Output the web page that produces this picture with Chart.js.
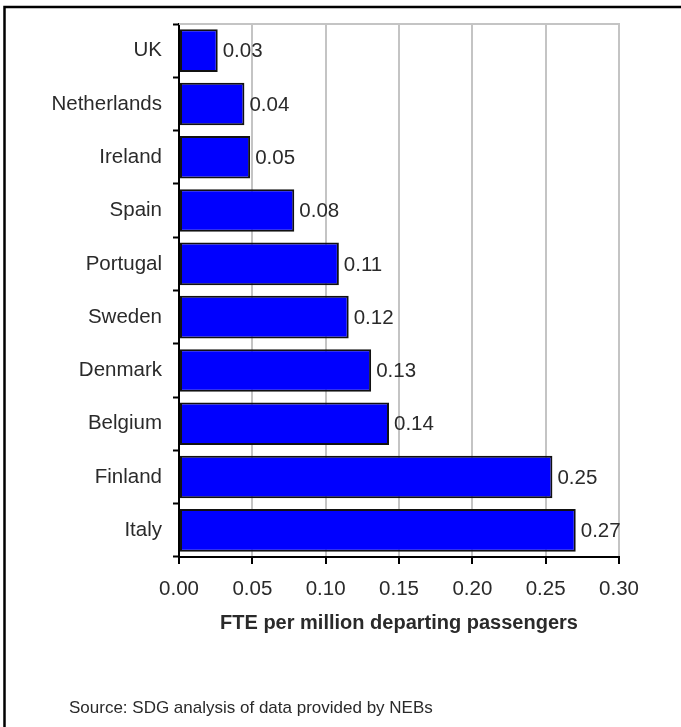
<!DOCTYPE html>
<html>
<head>
<meta charset="utf-8">
<script src="https://cdn.jsdelivr.net/npm/chart.js@4.4.1/dist/chart.umd.min.js"></script>
<style>
  html, body { margin: 0; padding: 0; background: #fff; }
  #wrap { width: 681px; height: 727px; position: relative; }
</style>
</head>
<body>
<div id="wrap"><canvas id="fteChart" width="681" height="727"></canvas></div>
<script>
const countries = ["UK", "Netherlands", "Ireland", "Spain", "Portugal", "Sweden", "Denmark", "Belgium", "Finland", "Italy"];
const fteValues = [0.0264, 0.0446, 0.0485, 0.0786, 0.109, 0.1157, 0.131, 0.1432, 0.2546, 0.2705];
const xTicks = [0, 0.05, 0.10, 0.15, 0.20, 0.25, 0.30];
const axisTitle = "FTE per million departing passengers";
const sourceNote = "Source: SDG analysis of data provided by NEBs";

const textColor = "#2a2a2a";
const labelFont = { family: "'Liberation Sans', Arial, sans-serif", size: 20.5 };

// value labels at the end of each bar + frame + source line
const extras = {
  id: "extras",
  beforeDraw(chart) {
    const ctx = chart.ctx;
    ctx.save();
    ctx.fillStyle = "#fff";
    ctx.fillRect(0, 0, chart.width, chart.height);
    ctx.restore();
  },
  afterDraw(chart) {
    const ctx = chart.ctx;
    const area = chart.chartArea;
    ctx.save();
    // grey top border of plot
    ctx.strokeStyle = "#c4c4c4";
    ctx.lineWidth = 2;
    ctx.beginPath();
    ctx.moveTo(area.left, area.top);
    ctx.lineTo(area.right + 1, area.top);
    ctx.stroke();

    // value labels
    ctx.fillStyle = textColor;
    ctx.font = labelFont.size + "px " + labelFont.family;
    ctx.textBaseline = "middle";
    ctx.textAlign = "left";
    const meta = chart.getDatasetMeta(0);
    meta.data.forEach((bar, i) => {
      ctx.fillText(fteValues[i].toFixed(2), bar.x + 5, bar.y + 1);
    });

    // source line
    ctx.font = "17px " + labelFont.family;
    ctx.fillText(sourceNote, 69, 708);

    // outer frame (top and left only)
    ctx.strokeStyle = "#000";
    ctx.lineWidth = 2.5;
    ctx.beginPath();
    ctx.moveTo(4.5, chart.height);
    ctx.lineTo(4.5, 7);
    ctx.lineTo(chart.width, 7);
    ctx.stroke();
    ctx.restore();
  }
};

new Chart(document.getElementById("fteChart").getContext("2d"), {
  type: "bar",
  data: {
    labels: countries,
    datasets: [{
      data: fteValues,
      backgroundColor: "#0000ff",
      borderColor: "#111",
      borderWidth: 2,
      borderSkipped: false,
      categoryPercentage: 0.8,
      barPercentage: 1.0
    }]
  },
  options: {
    indexAxis: "y",
    responsive: false,
    animation: false,
    layout: { padding: { top: 24, right: 62, bottom: 92, left: 0 } },
    plugins: {
      legend: { display: false },
      tooltip: { enabled: false }
    },
    scales: {
      x: {
        min: 0,
        max: 0.30,
        afterBuildTicks(scale) {
          scale.ticks = xTicks.map(v => ({ value: v }));
        },
        afterFit(scale) { scale.height = 78; },
        grid: {
          color: "#c4c4c4",
          lineWidth: 2,
          tickColor: "#000",
          tickLength: 7,
          tickWidth: 2
        },
        border: { color: "#000", width: 2 },
        ticks: {
          color: textColor,
          font: labelFont,
          padding: 13,
          maxRotation: 0,
          callback: v => Number(v).toFixed(2)
        },
        title: {
          display: true,
          text: axisTitle,
          color: textColor,
          font: { family: labelFont.family, size: 20, weight: "bold" },
          padding: { top: 0, bottom: 0 }
        }
      },
      y: {
        afterFit(scale) { scale.width = 179; },
        grid: {
          drawOnChartArea: false,
          offset: true,
          tickColor: "#000",
          tickLength: 6,
          tickWidth: 2
        },
        border: { color: "#000", width: 2 },
        ticks: {
          color: textColor,
          font: labelFont,
          padding: 11
        }
      }
    }
  },
  plugins: [extras]
});
</script>
</body>
</html>
